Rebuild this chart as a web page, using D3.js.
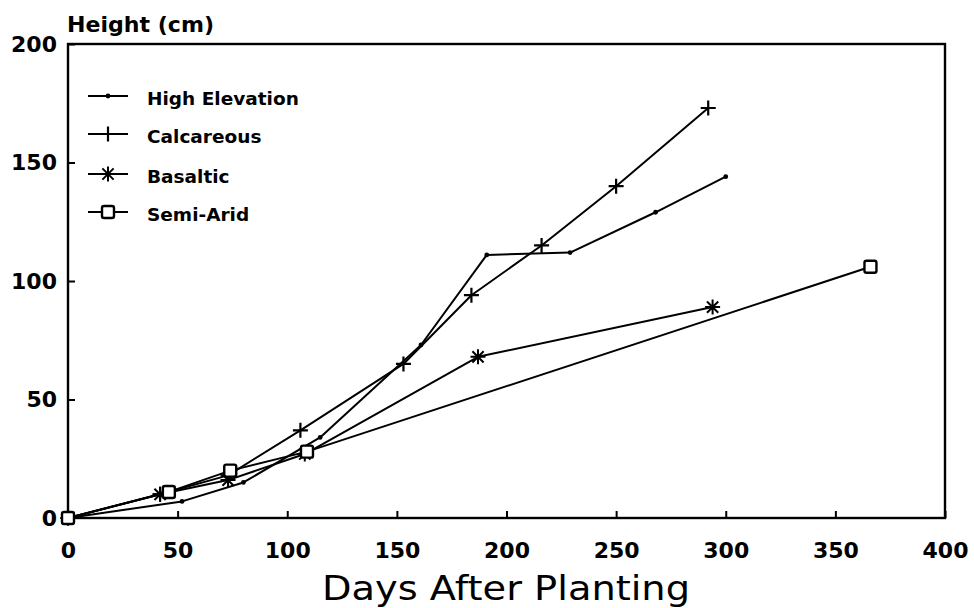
<!DOCTYPE html>
<html>
<head>
<meta charset="utf-8">
<script src="https://cdn.jsdelivr.net/npm/d3@7"></script>
<style>
  html, body { margin: 0; padding: 0; background: #fff; }
  svg { display: block; }
  text { font-family: "DejaVu Sans", sans-serif; fill: #000; }
</style>
</head>
<body>
<svg id="chart" width="974" height="608"></svg>
<script>
// ---- data ----
const xTicks = [0, 50, 100, 150, 200, 250, 300, 350, 400];
const yTicks = [0, 50, 100, 150, 200];

const highElevationDays   = [0, 52, 80, 115, 161, 191, 229, 268, 300];
const highElevationHeight = [0, 7, 15, 34, 73, 111, 112, 129, 144];

const calcareousDays   = [0, 42, 73, 106, 153, 184, 216, 250, 292];
const calcareousHeight = [0, 10, 18, 37, 65, 94, 115, 140, 173];

const basalticDays   = [0, 42, 73, 108, 187, 294];
const basalticHeight = [0, 10, 16, 27, 68, 89];

const semiAridDays   = [0, 46, 74, 109, 366];
const semiAridHeight = [0, 11, 20, 28, 106];

const seriesNames = ["High Elevation", "Calcareous", "Basaltic", "Semi-Arid"];
const seriesMarkers = ["dot", "plus", "star", "square"];

const series = [
  { name: seriesNames[0], marker: seriesMarkers[0], x: highElevationDays, y: highElevationHeight },
  { name: seriesNames[1], marker: seriesMarkers[1], x: calcareousDays, y: calcareousHeight },
  { name: seriesNames[2], marker: seriesMarkers[2], x: basalticDays, y: basalticHeight },
  { name: seriesNames[3], marker: seriesMarkers[3], x: semiAridDays, y: semiAridHeight }
];

// ---- layout ----
const svg = d3.select("#chart");
const mLeft = 68, mRight = 945, mTop = 44, mBottom = 518;
const x = d3.scaleLinear().domain([0, 400]).range([mLeft, mRight]);
const y = d3.scaleLinear().domain([0, 200]).range([mBottom, mTop]);

// frame
svg.append("rect")
  .attr("x", mLeft).attr("y", mTop)
  .attr("width", mRight - mLeft).attr("height", mBottom - mTop)
  .attr("fill", "none").attr("stroke", "#000").attr("stroke-width", 2.4);

// x axis ticks (inward) and labels
const xAxis = d3.axisBottom(x).tickValues(xTicks).tickSize(-7).tickPadding(24).tickFormat(d3.format("d"));
const gx = svg.append("g").attr("transform", `translate(0,${mBottom})`).call(xAxis);
gx.select(".domain").remove();
gx.selectAll(".tick line").attr("stroke", "#000").attr("stroke-width", 2);
gx.selectAll(".tick text")
  .style("font-family", "'DejaVu Sans', sans-serif")
  .style("font-size", "22px").style("font-weight", "bold")
  .attr("dy", "0.71em");

// y axis ticks (inward) and labels
const yAxis = d3.axisLeft(y).tickValues(yTicks).tickSize(-7).tickPadding(11).tickFormat(d3.format("d"));
const gy = svg.append("g").attr("transform", `translate(${mLeft},0)`).call(yAxis);
gy.select(".domain").remove();
gy.selectAll(".tick line").attr("stroke", "#000").attr("stroke-width", 2);
gy.selectAll(".tick text")
  .style("font-family", "'DejaVu Sans', sans-serif")
  .style("font-size", "22px").style("font-weight", "bold");

// titles
svg.append("text").attr("x", 67).attr("y", 32)
  .style("font-size", "22px").style("font-weight", "bold")
  .attr("textLength", 147).attr("lengthAdjust", "spacingAndGlyphs")
  .text("Height (cm)");
svg.append("text").attr("x", 322).attr("y", 600)
  .style("font-size", "34px")
  .attr("textLength", 368).attr("lengthAdjust", "spacingAndGlyphs")
  .text("Days After Planting");

// marker drawing
function drawMarker(g, type, cx, cy) {
  if (type === "dot") {
    g.append("circle").attr("cx", cx).attr("cy", cy).attr("r", 2.4).attr("fill", "#000");
  } else if (type === "plus") {
    g.append("path").attr("d", `M${cx-7.5},${cy}H${cx+7.5}M${cx},${cy-7.5}V${cy+7.5}`)
      .attr("stroke", "#000").attr("stroke-width", 2.2).attr("fill", "none");
  } else if (type === "star") {
    const r = 7.5, d = r * 0.75;
    g.append("path").attr("d",
      `M${cx-r},${cy}H${cx+r}M${cx},${cy-r}V${cy+r}M${cx-d},${cy-d}L${cx+d},${cy+d}M${cx-d},${cy+d}L${cx+d},${cy-d}`)
      .attr("stroke", "#000").attr("stroke-width", 2).attr("fill", "none");
  } else if (type === "square") {
    g.append("rect").attr("x", cx - 6).attr("y", cy - 6).attr("width", 12).attr("height", 12)
      .attr("rx", 2).attr("fill", "#fff").attr("stroke", "#000").attr("stroke-width", 2.4);
  }
}

const line = d3.line().x(d => x(d[0])).y(d => y(d[1]));

series.forEach(s => {
  const pts = s.x.map((d, i) => [d, s.y[i]]);
  const g = svg.append("g");
  g.append("path").attr("d", line(pts)).attr("fill", "none")
    .attr("stroke", "#000").attr("stroke-width", 2).attr("stroke-linejoin", "round");
  pts.forEach(p => drawMarker(g, s.marker, x(p[0]), y(p[1])));
});

// legend
const legendY = [96, 134, 174, 212];
series.forEach((s, i) => {
  const g = svg.append("g");
  const ly = legendY[i];
  g.append("line").attr("x1", 88).attr("x2", 128).attr("y1", ly).attr("y2", ly)
    .attr("stroke", "#000").attr("stroke-width", 2);
  drawMarker(g, s.marker, 108, ly);
  g.append("text").attr("x", 147).attr("y", ly + 9)
    .style("font-size", "18.5px").style("font-weight", "bold")
    .text(s.name);
});
</script>
</body>
</html>
